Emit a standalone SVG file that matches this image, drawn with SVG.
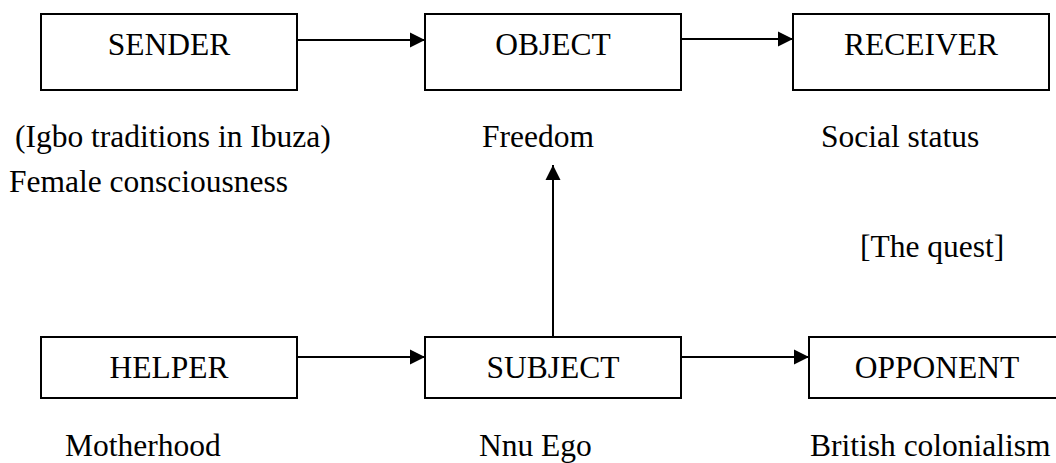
<svg xmlns="http://www.w3.org/2000/svg" width="1056" height="463" viewBox="0 0 1056 463">
<style>
.box{fill:#fff;stroke:#000;stroke-width:2}
.t{font-family:"Liberation Serif","Times New Roman",serif;font-size:31.5px;fill:#000}
.c{text-anchor:middle}
.ln{stroke:#000;stroke-width:2;fill:none}
</style>
<defs>
<marker id="ah" markerUnits="userSpaceOnUse" markerWidth="16" markerHeight="16" refX="15" refY="8" orient="auto">
<path d="M0,0.5 L15,8 L0,15.5 z" fill="#000"/>
</marker>
</defs>
<rect width="1056" height="463" fill="#fff"/>
<g id="connectors">
<line class="ln" x1="297" y1="40" x2="425" y2="40" marker-end="url(#ah)"/>
<line class="ln" x1="681" y1="39" x2="793" y2="39" marker-end="url(#ah)"/>
<line class="ln" x1="297" y1="357" x2="425" y2="357" marker-end="url(#ah)"/>
<line class="ln" x1="681" y1="357" x2="809" y2="357" marker-end="url(#ah)"/>
<line class="ln" x1="553" y1="337" x2="553" y2="165" marker-end="url(#ah)"/>
</g>
<g id="sender"><rect class="box" x="41" y="14" width="256" height="76"/><text class="t c" x="169" y="55">SENDER</text></g>
<g id="object"><rect class="box" x="425" y="14" width="256" height="76"/><text class="t c" x="553" y="55">OBJECT</text></g>
<g id="receiver"><rect class="box" x="793" y="14" width="256" height="76"/><text class="t c" x="921" y="55">RECEIVER</text></g>
<g id="helper"><rect class="box" x="41" y="337" width="256" height="61"/><text class="t c" x="169" y="378">HELPER</text></g>
<g id="subject"><rect class="box" x="425" y="337" width="256" height="61"/><text class="t c" x="553" y="378">SUBJECT</text></g>
<g id="opponent"><rect class="box" x="809" y="337" width="256" height="61"/><text class="t c" x="937" y="378">OPPONENT</text></g>
<g id="labels">
<text class="t" x="15" y="147">(Igbo traditions in Ibuza)</text>
<text class="t" x="9" y="192">Female consciousness</text>
<text class="t" x="482" y="147">Freedom</text>
<text class="t" x="821" y="147">Social status</text>
<text class="t" x="860" y="257">[The quest]</text>
<text class="t" x="65" y="456">Motherhood</text>
<text class="t" x="479" y="456">Nnu Ego</text>
<text class="t" x="810" y="456">British colonialism</text>
</g>
</svg>
